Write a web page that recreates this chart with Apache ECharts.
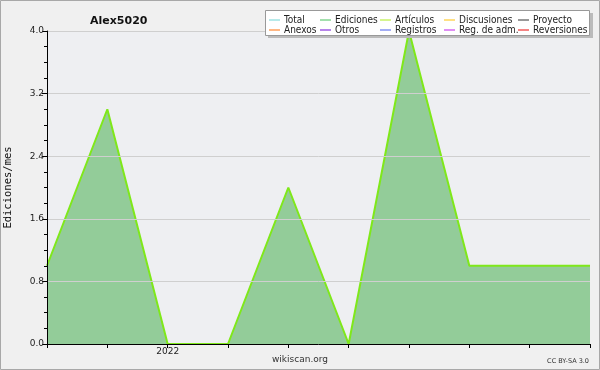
<!DOCTYPE html>
<html><head><meta charset="utf-8">
<script src="https://cdn.jsdelivr.net/npm/echarts@6/dist/echarts.min.js"></script>
<style>html,body{margin:0;padding:0;background:#f0f0f0;}#c{width:600px;height:370px;}</style>
</head><body><div id="c"></div>
<script>
const categories = ['2021-11','2021-12','2022-01','2022-02','2022-03','2022-04','2022-05','2022-06','2022-07','2022-08'];
const edits = [1, 3, 0, 0, 2, 0, 4, 1, 1, 1];
const yTicks = [0, 0.8, 1.6, 2.4, 3.2, 4.0];
const legendNames = ['Total','Ediciones','Artículos','Discusiones','Proyecto','Anexos','Otros','Registros','Reg. de adm.','Reversiones'];
const legendColors = ['#88dddd','#66cc77','#bbee44','#ffcc33','#555555','#ff8833','#8833dd','#6677ee','#cc44ee','#ee3333'];

const chart = echarts.init(document.getElementById('c'), null, {renderer:'canvas'});
const colX = [269, 320, 380, 444, 518];
const rowY = [20, 30];
const g = [];
g.push({type:'rect', shape:{x:0.5, y:0.5, width:599, height:369}, style:{fill:null, stroke:'#a8a8a8', lineWidth:1}, z:20});
g.push({type:'rect', shape:{x:268, y:13, width:325, height:25}, style:{fill:'#bbbbbb'}, z:10});
g.push({type:'rect', shape:{x:265.5, y:10.5, width:324, height:25}, style:{fill:'#ffffff', stroke:'#999999', lineWidth:1}, z:11});
legendNames.forEach((n,i)=>{
  const c = i%5, r = Math.floor(i/5);
  const x = colX[c], y = rowY[r];
  g.push({type:'line', shape:{x1:x, y1:y, x2:x+11, y2:y}, style:{stroke:legendColors[i], lineWidth:1.2}, z:12});
  g.push({type:'text', x:x+15, y:y, style:{text:n, fill:'#222', font:'10px "DejaVu Sans Condensed", "DejaVu Sans"', textVerticalAlign:'middle'}, z:12});
});
g.push({type:'text', x:300, y:360, style:{text:'wikiscan.org', fill:'#333', font:'9px "DejaVu Sans"', textAlign:'center', textVerticalAlign:'middle'}});
g.push({type:'text', x:589, y:361, style:{text:'CC BY-SA 3.0', fill:'#333', font:'6.5px "DejaVu Sans"', textAlign:'right', textVerticalAlign:'middle'}});

chart.setOption({
  backgroundColor:'#f0f0f0',
  animation:false,
  title:{text:'Alex5020', left:85, top:11, textStyle:{fontFamily:'DejaVu Sans', fontSize:11, fontWeight:'bold', color:'#111'}},
  grid:{left:47, right:10, top:31, bottom:26, show:true, backgroundColor:'#eeeff2', borderWidth:0, outerBoundsMode:'none', containLabel:false},
  xAxis:{type:'category', data:categories, boundaryGap:false, z:10,
    axisLine:{lineStyle:{color:'#000', width:1}},
    axisTick:{show:true, interval:0, length:4, lineStyle:{color:'#000'}},
    axisLabel:{interval:0, margin:3, fontFamily:'DejaVu Sans', fontSize:9, color:'#222',
      formatter:(v)=> v==='2022-01' ? '2022' : ''},
    splitLine:{show:false}},
  yAxis:{type:'value', min:yTicks[0], max:yTicks[yTicks.length-1], interval:0.8, z:10,
    name:'Ediciones/mes', nameLocation:'middle', nameGap:33,
    nameTextStyle:{fontFamily:'DejaVu Sans Mono', fontSize:10.5, color:'#111'},
    axisLine:{show:true, lineStyle:{color:'#000', width:1}},
    axisTick:{show:true, length:5, lineStyle:{color:'#000'}},
    minorTick:{show:true, splitNumber:4, length:3, lineStyle:{color:'#000'}},
    axisLabel:{margin:3, fontFamily:'DejaVu Sans', fontSize:9, color:'#222', formatter:(v)=>v.toFixed(1)},
    splitLine:{show:true, lineStyle:{color:'#cfcfcf', width:1}}},
  series:[{type:'line', name:'Ediciones', data:edits, symbol:'none',
    lineStyle:{color:'#7fe81a', width:2},
    areaStyle:{color:'#93cc99', opacity:1}, z:3}],
  graphic:g
});
</script></body></html>
